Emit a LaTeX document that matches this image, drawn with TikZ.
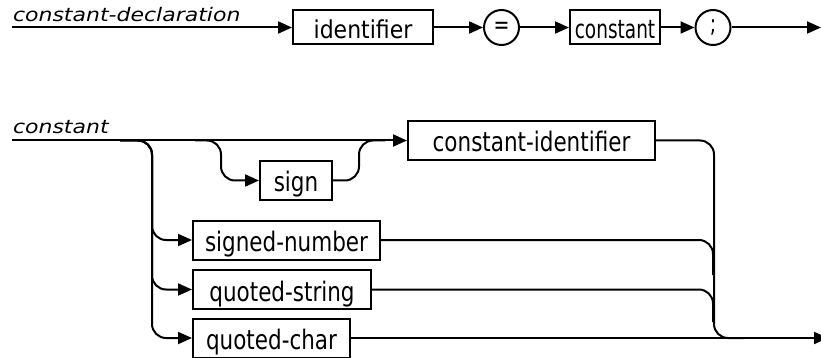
\documentclass[tikz,border=0pt]{standalone}
\usepackage{fontspec}
\setmainfont{DejaVu Sans}
\usepackage{graphicx}
\usetikzlibrary{arrows.meta}
\newcommand\txb[1]{\scalebox{1}[1.25]{#1}}
\newcommand\txt[1]{\scalebox{1}[1.3]{#1}}
\newcommand\txc[1]{\scalebox{1}[1.4]{#1}}
\newcommand\txi[1]{\scalebox{1}[1.12]{#1}}
\newcommand\txl[1]{\scalebox{1}[0.85]{#1}}
\begin{document}
\begin{tikzpicture}[x=1pt,y=-1pt,line width=2pt,
  boxb/.style={draw,rectangle,inner sep=0pt,text height=31pt,text depth=8pt,font=\fontsize{21.5}{24}\selectfont},
  boxt/.style={draw,rectangle,inner sep=0pt,text height=28pt,text depth=6pt,font=\fontsize{17.5}{20}\selectfont},
  circt/.style={draw,circle,inner sep=0pt,minimum size=35pt,font=\fontsize{19}{21}\selectfont},
  lbl/.style={anchor=base west,inner sep=0pt,font=\fontsize{22}{24}\selectfont\itshape},
  arr/.style={-{Triangle[length=14pt,width=12pt]}},
  conn/.style={rounded corners=14pt}]
\useasboundingbox (0,0) rectangle (821,358);
% top diagram
\node[lbl] (lab1) at (12,22) {\txl{constant-declaration}};
\coordinate (s1) at (12,27.5);
\node[boxt,minimum width=140pt,font=\fontsize{22}{24}\selectfont] (idf) at (363,27.5) {\txi{identifier}};
\node[circt] (eq) at (501.5,27.5) {\txt{=}};
\node[boxt,minimum width=90pt,font=\fontsize{18.5}{21}\selectfont] (cst) at (615,27.5) {\txc{constant}};
\node[circt] (semi) at (713,27.5) {\txt{;}};
\coordinate (e1) at (821,27.5);
\draw[arr] (s1) -- (idf.west);
\draw[arr] (idf) -- (eq);
\draw[arr] (eq) -- (cst);
\draw[arr] (cst) -- (semi);
\draw[arr] (semi) -- (e1);
% bottom diagram
\node[lbl] (lab2) at (12,134) {\txl{constant}};
\coordinate (s2) at (12,140.5);
\node[boxb,minimum width=247pt] (ci) at (531.5,140.5) {\txb{constant-identifier}};
\node[boxb,minimum width=72pt] (sign) at (296,180.5) {\txb{sign}};
\node[boxb,minimum width=187pt] (sn) at (286.5,240) {\txb{signed-number}};
\node[boxb,minimum width=178pt] (qs) at (282,289.5) {\txb{quoted-string}};
\node[boxb,minimum width=157pt] (qc) at (271.5,338) {\txb{quoted-char}};
\coordinate (b1) at (120,140.5);
\coordinate (b2) at (195,140.5);
\coordinate (j1) at (385,140.5);
\coordinate (e2) at (828,338);
\draw[arr] (s2) -- (ci.west);
\draw[arr,conn] (b1) -| ([xshift=-40pt]sn.west) -- (sn.west);
\draw[arr,conn] (b1) -| ([xshift=-40pt]qs.west) -- (qs.west);
\draw[arr,conn] (b1) -| ([xshift=-40pt]qc.west) -- (qc.west);
\draw[arr,conn] (b2) -| ([xshift=-38pt]sign.west) -- (sign.west);
\draw[conn] (sign.east) -| ([xshift=26pt]sign.east |- j1) -- (j1);
\draw[conn] (ci.east) -| ([xshift=58pt]ci.east |- qc.east) -- ([xshift=88pt]ci.east |- qc.east);
\draw[conn] (sn.east) -| (713,275);
\draw[conn] (qs.east) -| (713,322);
\draw[arr] (qc.east) -- (e2);
\end{tikzpicture}
\end{document}
